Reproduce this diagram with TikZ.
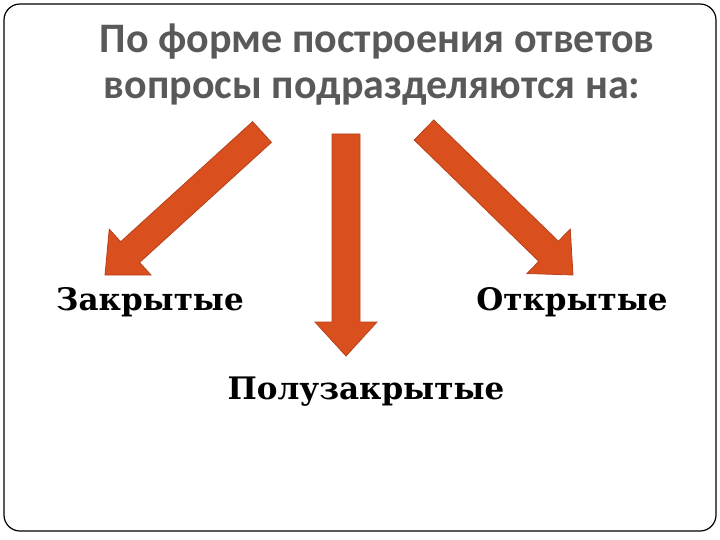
\documentclass[tikz,border=0pt]{standalone}
\usepackage{fontspec}
\setmainfont{DejaVu Serif}
\newfontfamily\titlefont{Carlito}
\usetikzlibrary{calc}
\definecolor{arr}{HTML}{D9501E}
\definecolor{arrdark}{HTML}{B8401A}
\definecolor{ttl}{HTML}{595959}
\tikzset{
  ttl/.style={font=\titlefont\bfseries\fontsize{42}{48}\selectfont, text=ttl},
  lbl/.style={font=\bfseries\fontsize{31}{36}\selectfont, text=black},
  fatarrow/.style={fill=arr, draw=arrdark, line width=0.8pt, line join=miter}
}
\newcommand{\fatarr}[2]{%
  \coordinate (H) at ($(#2)!34pt!(#1)$);
  \draw[fatarrow] ($(#1)!14pt!90:(#2)$) -- ($(H)!14pt!90:(#2)$) -- ($(H)!31pt!90:(#2)$) -- (#2)
     -- ($(H)!31pt!-90:(#2)$) -- ($(H)!14pt!-90:(#2)$) -- ($(#1)!14pt!-90:(#2)$) -- cycle;}
\begin{document}
\begin{tikzpicture}[x=1pt,y=-1pt]
\useasboundingbox (0,0) rectangle (720,540);
\draw[line width=1.2pt, rounded corners=16pt] (4,4) rectangle (716,531);
\node[ttl] (t1) at (377,42) {По форме построения ответов};
\node[ttl] (t2) at (372,92) {вопросы подразделяются на:};
\coordinate (lt) at (262,132);
\coordinate (lp) at (105,275);
\coordinate (mt) at (346,134);
\coordinate (mp) at (346,356);
\coordinate (rt) at (424,130);
\coordinate (rp) at (573,275);
\fatarr{lt}{lp}
\fatarr{mt}{mp}
\fatarr{rt}{rp}
\node[lbl] (a) at (150,302) {Закрытые};
\node[lbl] (b) at (572,302) {Открытые};
\node[lbl] (c) at (366,392) {Полузакрытые};
\end{tikzpicture}
\end{document}
